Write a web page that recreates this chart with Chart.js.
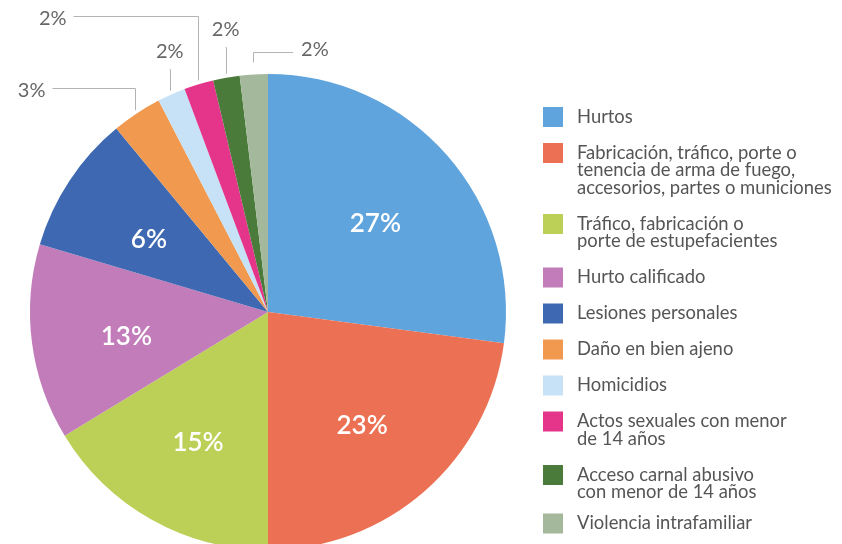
<!DOCTYPE html>
<html>
<head>
<meta charset="utf-8">
<script src="https://cdn.jsdelivr.net/npm/chart.js@4.4.1/dist/chart.umd.min.js"></script>
<style>
    html, body { margin: 0; padding: 0; background: #fff; overflow: hidden; }
    #wrap { width: 842px; height: 544px; overflow: hidden; position: relative; }
    canvas { display: block; }
</style>
</head>
<body>
<div id="wrap"><canvas id="pie" width="842" height="620"></canvas></div>
<script>
// categories (legend text, line breaks as in the original)
const categories = [
    ['Hurtos'],
    ['Fabricación, tráfico, porte o', 'tenencia de arma de fuego,', 'accesorios, partes o municiones'],
    ['Tráfico, fabricación o', 'porte de estupefacientes'],
    ['Hurto calificado'],
    ['Lesiones personales'],
    ['Daño en bien ajeno'],
    ['Homicidios'],
    ['Actos sexuales con menor', 'de 14 años'],
    ['Acceso carnal abusivo', 'con menor de 14 años'],
    ['Violencia intrafamiliar']
];
const shares = [27.1, 22.9, 16.3, 13.3, 9.4, 3.4, 1.9, 2.0, 1.8, 1.9];
const shareLabels = ['27%', '23%', '15%', '13%', '6%', '3%', '2%', '2%', '2%', '2%'];

const sliceColors = ['#5fa4dc', '#ec7053', '#bccf56', '#c27cb9', '#3e69b2',
    '#f0994f', '#c7e1f6', '#e4358a', '#4b7b3b', '#a4b89b'];

// slices labelled inside vs. with a leader line
const insideIdx = [0, 1, 2, 3, 4];
// leader lines: gap off the rim, rise, horizontal run (neg = left)
const callouts = {
    5: {gap: 4, rise: 22, run: -82},
    6: {gap: 4, rise: 22, run: 0},
    7: {gap: 4, rise: 64, run: -124},
    8: {gap: 4, rise: 27, run: 0},
    9: {gap: 12, rise: 10, run: 40}
};

const FONT = 'Lato, "Noto Sans", sans-serif';

const sliceLabelPlugin = {
    id: 'sliceLabelPlugin',
    afterDatasetsDraw(chart) {
        const {ctx} = chart;
        const meta = chart.getDatasetMeta(0);
        ctx.save();
        meta.data.forEach((arc, i) => {
            const mid = (arc.startAngle + arc.endAngle) / 2;
            if (insideIdx.includes(i)) {
                const r = arc.outerRadius * 0.6;
                ctx.font = '600 26px ' + FONT;
                ctx.fillStyle = '#ffffff';
                ctx.textAlign = 'center';
                ctx.textBaseline = 'middle';
                ctx.fillText(shareLabels[i], arc.x + Math.cos(mid) * r, arc.y + Math.sin(mid) * r + 6);
                return;
            }
            const c = callouts[i];
            if (!c) return;
            const r = arc.outerRadius + c.gap;
            const x0 = arc.x + Math.cos(mid) * r;
            const y0 = arc.y + Math.sin(mid) * r;
            const y1 = y0 - c.rise;
            const x1 = x0 + c.run;
            ctx.strokeStyle = '#b4b4b4';
            ctx.lineWidth = 1;
            ctx.beginPath();
            ctx.moveTo(Math.round(x0) + 0.5, y0);
            ctx.lineTo(Math.round(x0) + 0.5, Math.round(y1) + 0.5);
            ctx.lineTo(x1, Math.round(y1) + 0.5);
            ctx.stroke();
            ctx.font = '20px ' + FONT;
            ctx.fillStyle = '#666668';
            ctx.textBaseline = 'middle';
            if (c.run < 0) {
                ctx.textAlign = 'right';
                ctx.fillText(shareLabels[i], x1 - 7, y1 + 2);
            } else if (c.run > 0) {
                ctx.textAlign = 'left';
                ctx.fillText(shareLabels[i], x1 + 8, y1 - 3);
            } else {
                ctx.textAlign = 'center';
                ctx.fillText(shareLabels[i], x0, y1 - 17);
            }
        });
        ctx.restore();
    }
};

// legend drawn on the right, multi-line entries
const sideLegendPlugin = {
    id: 'sideLegendPlugin',
    afterDraw(chart) {
        const {ctx} = chart;
        const colors = chart.data.datasets[0].backgroundColor;
        const boxX = 543, box = 20, textX = 577, lineH = 17.5;
        let y = 107;
        ctx.save();
        ctx.font = '18.4px ' + FONT;
        ctx.textAlign = 'left';
        ctx.textBaseline = 'middle';
        chart.data.labels.forEach((lines, i) => {
            ctx.fillStyle = colors[i];
            ctx.fillRect(boxX, y, box, box);
            ctx.fillStyle = '#555557';
            lines.forEach((t, k) => ctx.fillText(t, textX, y + box / 2 + k * lineH));
            y += (i === 8 ? 31 : 36) + (lines.length - 1) * lineH;
        });
        ctx.restore();
    }
};

new Chart(document.getElementById('pie'), {
    type: 'pie',
    data: {
        labels: categories,
        datasets: [{
            data: shares,
            backgroundColor: sliceColors,
            borderWidth: 0
        }]
    },
    options: {
        responsive: false,
        animation: false,
        layout: {padding: {left: 30, right: 336, top: 74, bottom: 70}},
        plugins: {
            legend: {display: false},
            tooltip: {enabled: false}
        }
    },
    plugins: [sliceLabelPlugin, sideLegendPlugin]
});
</script>
</body>
</html>
